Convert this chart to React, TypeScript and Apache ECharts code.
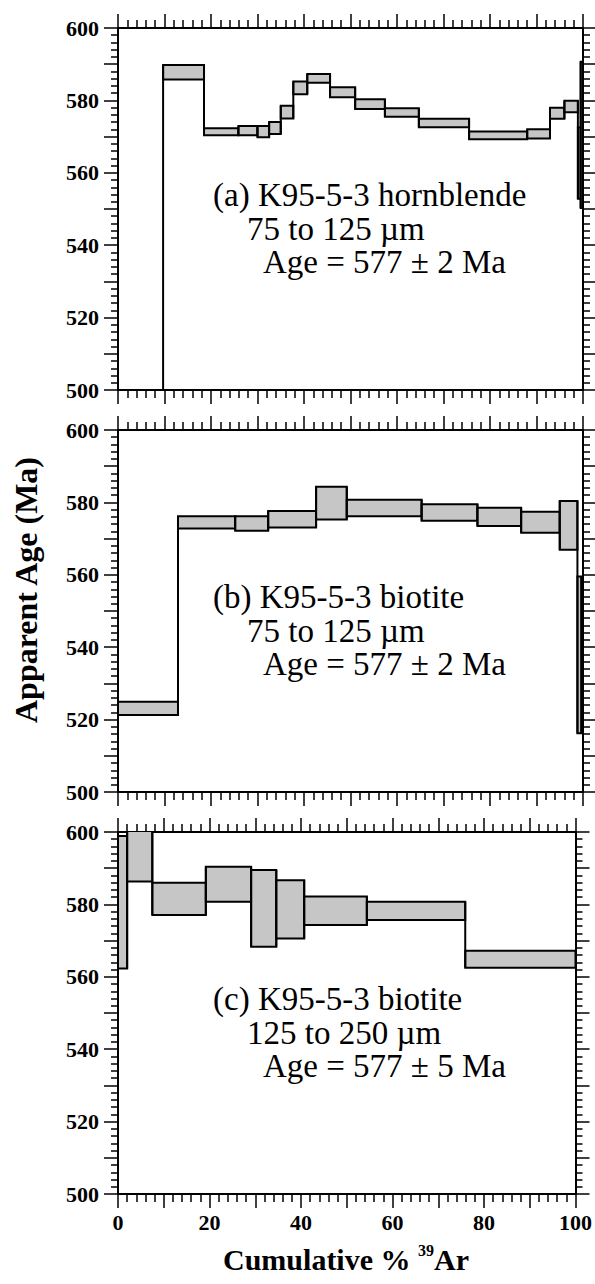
import React, { useEffect, useRef } from "react";
import * as echarts from "echarts";

// ---- axis ticks ----
const xTickLabels = [0, 20, 40, 60, 80, 100];
const yTickLabels = [500, 520, 540, 560, 580, 600];

// ---- panel (a) K95-5-3 hornblende ----
const panelAEdges = [9.7, 18.5, 25.9, 30.0, 32.5, 35.0, 37.7, 40.7, 45.6, 51.0, 57.4, 64.7, 75.5, 88.0, 92.9, 96.0, 98.9, 99.5, 100];
const panelALow = [585.8, 570.4, 570.4, 569.8, 570.7, 575.0, 581.7, 584.9, 580.9, 577.6, 575.5, 572.6, 569.3, 569.5, 574.9, 576.7, 552.8, 550.3];
const panelAHigh = [589.8, 572.3, 572.9, 572.9, 574.0, 578.5, 585.2, 587.3, 583.6, 580.3, 577.8, 574.9, 571.4, 572.0, 578.0, 579.9, 572.5, 590.7];
const panelAStartAge = 500;

// ---- panel (b) K95-5-3 biotite 75-125 ----
const panelBEdges = [0, 12.9, 25.2, 32.3, 42.6, 49.2, 65.3, 77.3, 86.7, 95.0, 98.8, 99.6];
const panelBLow = [521.3, 572.8, 572.2, 573.1, 575.3, 576.2, 574.9, 573.5, 571.6, 566.9, 516.2];
const panelBHigh = [524.9, 576.2, 576.2, 577.6, 584.3, 580.7, 579.5, 578.5, 577.4, 580.4, 559.5];

// ---- panel (c) K95-5-3 biotite 125-250 ----
const panelCEdges = [0, 2.0, 7.5, 19.2, 29.1, 34.6, 40.7, 54.4, 75.9, 100];
const panelCLow = [562.3, 586.3, 577.1, 580.7, 568.3, 570.6, 574.3, 575.7, 562.5];
const panelCHigh = [598.9, 600.6, 586.0, 590.4, 589.5, 586.7, 582.2, 580.7, 567.2];

// ---- annotations ----
const panelLabels = [
  ["(a) K95-5-3 hornblende", "75 to 125 µm", "Age = 577 ± 2 Ma"],
  ["(b) K95-5-3 biotite", "75 to 125 µm", "Age = 577 ± 2 Ma"],
  ["(c) K95-5-3 biotite", "125 to 250 µm", "Age = 577 ± 5 Ma"],
];
const yAxisTitle = "Apparent Age (Ma)";
const xAxisTitle = ["Cumulative % ", "39", "Ar"];

const SERIF = "'Liberation Serif', 'Times New Roman', serif";
const PANEL_TOPS = [28, 430, 832];
const PANEL_H = 362;
const GRID_LEFT = 118;
const GRID_W = 465;
const FILL = "#c6c6c6";

function buildSteps(edges: number[], low: number[], high: number[], startAge?: number) {
  const out: number[][] = [];
  for (let i = 0; i < low.length; i++) {
    let pLo = 0, pHi = 0, has = 0;
    if (i > 0) {
      pLo = low[i - 1];
      pHi = high[i - 1];
      has = 1;
    } else if (startAge !== undefined) {
      pLo = startAge;
      pHi = startAge;
      has = 1;
    }
    out.push([edges[i], edges[i + 1], low[i], high[i], pLo, pHi, has]);
  }
  return out;
}

export default function App() {
  const ref = useRef<HTMLDivElement>(null);
  useEffect(() => {
    if (!ref.current) return;
    const chart = echarts.init(ref.current, undefined, { renderer: "svg" });
    const datasets = [
      buildSteps(panelAEdges, panelALow, panelAHigh, panelAStartAge),
      buildSteps(panelBEdges, panelBLow, panelBHigh),
      buildSteps(panelCEdges, panelCLow, panelCHigh),
    ];
    const axisLine = { show: true, onZero: false, lineStyle: { color: "#000", width: 2 } };
    const grids: any[] = [];
    const xAxes: any[] = [];
    const yAxes: any[] = [];
    const series: any[] = [];
    const graphics: any[] = [];
    PANEL_TOPS.forEach((top, i) => {
      grids.push({ left: GRID_LEFT, top, width: GRID_W, height: PANEL_H, containLabel: false });
      ["bottom", "top"].forEach((pos) => {
        xAxes.push({
          type: "value", gridIndex: i, position: pos, min: 0, max: 100, interval: 10,
          axisLine,
          axisTick: { show: true, length: 14, lineStyle: { color: "#000", width: 1.5 } },
          minorTick: { show: true, splitNumber: 5, length: 8, lineStyle: { color: "#000", width: 1.5 } },
          splitLine: { show: false },
          axisLabel: {
            show: pos === "bottom" && i === 2,
            formatter: (v: number) => (xTickLabels.includes(v) ? String(v) : ""),
            fontFamily: SERIF, fontWeight: "bold", fontSize: 22, color: "#000", margin: 17,
          },
        });
      });
      ["left", "right"].forEach((pos) => {
        yAxes.push({
          type: "value", gridIndex: i, position: pos, min: 500, max: 600, interval: 10,
          axisLine,
          axisTick: { show: true, length: 14, lineStyle: { color: "#000", width: 1.5 } },
          minorTick: { show: true, splitNumber: 5, length: 7, lineStyle: { color: "#000", width: 1.5 } },
          splitLine: { show: false },
          axisLabel: {
            show: pos === "left",
            formatter: (v: number) => (yTickLabels.includes(v) ? String(v) : ""),
            fontFamily: SERIF, fontWeight: "bold", fontSize: 22, color: "#000", margin: 19,
          },
        });
      });
      series.push({
        type: "custom",
        xAxisIndex: i * 2,
        yAxisIndex: i * 2,
        clip: true,
        encode: { x: [0, 1], y: [2, 3] },
        data: datasets[i],
        renderItem: (_p: any, api: any) => {
          const x0 = api.value(0), x1 = api.value(1), lo = api.value(2), hi = api.value(3);
          const pLo = api.value(4), pHi = api.value(5), has = api.value(6);
          const a = api.coord([x0, hi]);
          const b = api.coord([x1, lo]);
          const children: any[] = [
            {
              type: "rect",
              shape: { x: a[0], y: a[1], width: b[0] - a[0], height: b[1] - a[1] },
              style: { fill: FILL, stroke: "#000", lineWidth: 2 },
            },
          ];
          if (has) {
            const c = api.coord([x0, Math.min(pLo, lo)]);
            const d = api.coord([x0, Math.max(pHi, hi)]);
            children.push({
              type: "line",
              shape: { x1: c[0], y1: c[1], x2: d[0], y2: d[1] },
              style: { stroke: "#000", lineWidth: 2 },
            });
          }
          return { type: "group", children };
        },
      });
      const offs = [167, 201, 234];
      const xs = [213, 247, 263];
      panelLabels[i].forEach((t, k) => {
        graphics.push({
          type: "text",
          x: xs[k],
          y: top + offs[k],
          style: { text: t, fontFamily: SERIF, fontSize: 33, fill: "#000", textAlign: "left", textVerticalAlign: "middle" },
        });
      });
    });
    graphics.push({
      type: "text",
      x: 26,
      y: 590,
      rotation: Math.PI / 2,
      style: { text: yAxisTitle, fontFamily: SERIF, fontWeight: "bold", fontSize: 32, fill: "#000", textAlign: "center", textVerticalAlign: "middle" },
    });
    graphics.push({
      type: "text",
      x: 346,
      y: 1259,
      style: {
        text: `{a|${xAxisTitle[0]}}{s|${xAxisTitle[1]}}{a|${xAxisTitle[2]}}`,
        textAlign: "center",
        textVerticalAlign: "middle",
        rich: {
          a: { fontFamily: SERIF, fontWeight: "bold", fontSize: 30, fill: "#000", color: "#000", lineHeight: 34 },
          s: { fontFamily: SERIF, fontWeight: "bold", fontSize: 16, fill: "#000", color: "#000", verticalAlign: "top", lineHeight: 34 },
        },
      },
    });
    chart.setOption({
      animation: false,
      backgroundColor: "#fff",
      grid: grids,
      xAxis: xAxes,
      yAxis: yAxes,
      series,
      graphic: graphics,
    });
    return () => chart.dispose();
  }, []);
  return <div ref={ref} style={{ position: "fixed", left: 0, top: 0, width: 595, height: 1284 }} />;
}
